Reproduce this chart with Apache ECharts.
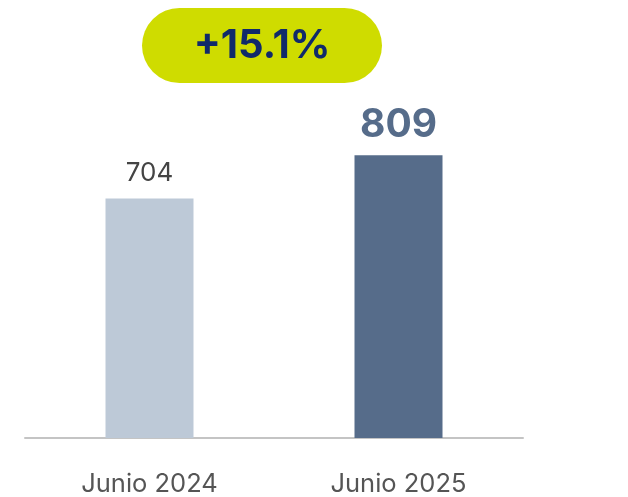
<!DOCTYPE html>
<html><head><meta charset="utf-8">
<script src="https://cdn.jsdelivr.net/npm/echarts@6/dist/echarts.min.js"></script>
<style>html,body{margin:0;padding:0;background:#fff}#c{width:628px;height:497px}</style>
</head><body><div id="c"></div>
<script>
const categories = ['Junio 2024', 'Junio 2025'];
const values = [704, 809];
const badgeText = '+15.1%';

const chart = echarts.init(document.getElementById('c'), null, {renderer: 'canvas'});
chart.setOption({
  animation: false,
  grid: {left: 25, right: 105, top: 77, bottom: 59},
  xAxis: {
    type: 'category', data: categories,
    axisLine: {lineStyle: {color: '#c4c4c4', width: 2}},
    axisTick: {show: false},
    axisLabel: {margin: 33, fontSize: 25.5, color: '#555555', fontFamily: 'Inter'}
  },
  yAxis: {type: 'value', min: 120, max: 1000, show: false, splitLine: {show: false}},
  series: [{
    type: 'bar', barWidth: 88,
    data: values.map((v, i) => ({
      value: v,
      itemStyle: {color: i === 0 ? '#bdc9d7' : '#566c8a'},
      label: i === 0
        ? {show: true, position: 'top', distance: 12, fontSize: 26, color: '#444444', fontFamily: 'Inter'}
        : {show: true, position: 'top', distance: 11, fontSize: 39, fontWeight: 'bold', color: '#566c8a', fontFamily: 'Inter'}
    }))
  }],
  graphic: [{
    type: 'group', left: 142, top: 8,
    children: [
      {type: 'rect', shape: {x: 0, y: 0, width: 240, height: 75, r: 37.5}, style: {fill: '#cfdc00'}},
      {type: 'text', x: 120, y: 38, style: {text: badgeText, font: 'bold 40px Inter', fill: '#102a6a', align: 'center', verticalAlign: 'middle'}}
    ]
  }]
});
</script></body></html>
